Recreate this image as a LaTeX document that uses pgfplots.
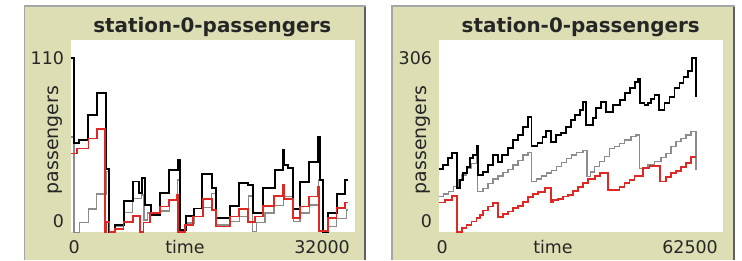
\documentclass[border=0pt]{standalone}
\usepackage{fontspec}
\setmainfont{DejaVu Sans}
\usepackage{pgfplots}
\usepackage{pgfplotstable}
\pgfplotsset{compat=1.18}
\definecolor{beige}{RGB}{222,222,181}
\definecolor{framelight}{RGB}{165,165,165}
\definecolor{framedark}{RGB}{95,95,95}
\definecolor{pengray}{RGB}{140,140,140}
\definecolor{penred}{RGB}{222,40,36}

\pgfplotstableread{
x y
0 110
375 56
938 58
1913 74
2926 88
3976 40
4314 0
4989 4.6
6002 19.7
6977 32
7727 24.6
8027 34
8365 17
9003 11
10053 24.5
11066 39
12116 45.5
12304 1.5
12941 10
13917 15
14742 36.5
15868 27.7
16355 8.8
17930 16.6
18981 30.9
19993 30
20556 12
21681 27.7
22994 39.3
23932 51.8
24007 42.4
24495 40.3
25058 14.5
25809 31.9
26859 44.5
27871 60.3
28059 33
28434 0.4
28996 12
29934 24
30871 33
31171 33
}\leftblack
\pgfplotstableread{
x y
0 60.2
375 0
975 6.1
1988 14.5
2926 24.1
3976 38.2
4239 0
4989 3.6
5927 12.4
6977 21.4
7990 23.5
8252 7.8
8627 12
10053 13.6
11103 20.4
12003 33
12303 0
12941 5.7
13916 9.9
14929 15.7
15867 24.5
16354 4.6
17930 6.7
18980 9.9
19993 22.9
20480 0.4
20931 6.1
21868 12
22881 16.8
23931 22.5
25057 6.7
25807 12
26857 17.2
27870 33
28433 0
28996 3.6
29933 8.8
31058 14
31171 14
}\leftgray
\pgfplotstableread{
x y
0 49.7
675 52.9
1988 59.2
2926 64.9
3864 0
3976 6.7
4351 0
4989 1.9
5927 6.7
6977 10.3
7802 0
8177 6.1
8927 12
10053 16.2
11103 20.4
11928 23.5
12116 0
12866 4.6
13804 9.9
14854 20.8
15867 14.1
16354 3.6
17930 9.9
18980 14.5
19993 6.7
20743 9.9
21681 16.6
22881 22.9
23931 29.8
24007 20.8
25057 8.8
25807 16.2
26857 22.5
27870 28.8
27983 1
28996 8.8
29933 15.1
30871 18.7
31171 18.7
}\leftred
\pgfplotstableread{
x y
0 110.4
1023 118
2120 129.6
2851 138.4
3947 77.1
4678 91.7
5409 104.5
6140 115
6871 129.6
7602 135.5
8333 151.3
8699 100.4
9795 106.3
10892 118
11988 135.5
13085 123.8
13816 135.5
15278 147.2
16374 161.8
17471 170.5
18567 184
19664 201.5
20395 151.3
21711 155.9
22807 167.6
23538 177.5
24635 158.8
25731 170.5
26828 173.4
27924 185.1
29021 196.8
29898 205.6
30994 214.3
31725 228.9
32456 188
33918 199.7
34649 217.2
35746 228.9
36842 211.4
38304 223.1
39766 231.8
40863 243.5
41959 252.3
43056 264
43787 268
44152 227.2
45249 223.1
45980 226
46711 233
47442 240.6
48392 214.3
49635 226
50731 237.7
51828 252.3
52924 262.2
53802 272.7
54752 283.2
55702 306
56579 237.7
}\rightblack
\pgfplotstableread{
x y
0 62.5
1023 66.6
2120 71.2
3216 80
4313 91.7
5044 100.4
6140 112.1
7237 120.9
8333 133.7
8553 71.2
9795 77.1
10892 85.8
11988 92.9
13085 98.7
14181 104.5
15278 110.4
16374 118
17471 125.6
18567 135.5
19664 139.6
20395 88.8
21491 92.9
22588 98.7
23684 103.4
24781 108
25877 115
26974 122.1
28070 129.6
29167 135.5
30263 139.6
31725 143.1
32603 97.5
33400 106
34284 115
35380 123.8
36477 132.6
37573 147.2
38670 150.1
39766 155.9
40863 161.8
42325 167.6
43421 170.5
44152 112.1
45980 118
47442 123.8
48904 131.4
50000 138.4
51097 150.1
52193 158.8
53290 164.7
54386 170.5
55483 176.4
56579 109.2
}\rightgray
\pgfplotstableread{
x y
0 52
1389 56.6
2851 63.7
3947 0
5044 7
6140 12.8
7237 18.7
8333 24.5
9064 30.4
9795 38
10892 45
11988 50.8
13085 27.4
14181 32.1
15278 36.2
16374 42
17471 46.7
18567 53.7
19664 61.3
20760 67.2
21857 71.2
23319 77.1
24635 52
25146 56.6
26243 57.8
27339 62.5
28436 65.4
29532 72.4
30629 80
31725 87
32822 92.9
34284 98.7
35380 104.5
37208 74.2
39766 80
40863 85.8
41959 91.7
43056 98.7
44883 112.1
46345 116.2
48685 88.8
50000 97.5
51097 103.4
52193 108
53290 115
54386 120.9
55483 131.4
56579 131.4
}\rightred

\pgfplotsset{
  panel/.style={
    scale only axis, width=284.3bp, height=192.3bp, anchor=south west,
    axis background/.style={fill=white},
    axis line style={draw=none}, major tick length=0pt, tick style={draw=none},
    clip=false, ymin=0, xmin=0,
    /pgf/number format/assume math mode=true,
    ticklabel style={font=\fontsize{17.5}{20}\selectfont, inner sep=0pt, text=black!85},
    yticklabel style={anchor=east, xshift=-6.5bp},
    xticklabel style={anchor=north east, xshift=-5bp, yshift=-8bp},
    extra y tick style={yticklabel style={yshift=11.3bp}},
    extra x tick style={xticklabel style={anchor=north, xshift=8.5bp}},
    extra y ticks={0}, extra y tick labels={0},
    extra x ticks={0}, extra x tick labels={0},
    label style={font=\fontsize{17.5}{20}\selectfont, inner sep=0pt, text=black!85},
    xlabel={time},
    xlabel style={at={(axis description cs:0.402,-0.042)}, anchor=north},
    ylabel={passengers},
    ylabel style={at={(axis description cs:-0.027,0.48)}, anchor=south, font=\fontsize{19}{22}\selectfont},
    every axis plot/.append style={const plot, line join=miter},
  }
}

\begin{document}
\begin{tikzpicture}[x=1bp,y=1bp]
\useasboundingbox (0,0) rectangle (742,260);
% left panel frame
\fill[framelight] (23.5,0) rectangle (366,254.5);
\fill[beige] (25,0) rectangle (363.5,253);
\fill[framedark] (363.5,0) rectangle (366,253);
% right panel frame
\fill[framelight] (391,0) rectangle (735,254.5);
\fill[beige] (392.5,0) rectangle (732.5,253);
\fill[framedark] (732.5,0) rectangle (735,253);

\node[font=\bfseries\fontsize{20}{24}\selectfont, anchor=base, text=black!85] at (212.3,227.7) {station-0-passengers};
\node[font=\bfseries\fontsize{20}{24}\selectfont, anchor=base, text=black!85] at (580.7,227.7) {station-0-passengers};

\begin{axis}[panel, at={(70.7bp,27.7bp)}, xmax=32000, ymax=121.2,
  xtick={32000}, xticklabels={32000}, ytick={110}, yticklabels={110}]
\addplot[pengray, line width=1.6bp] table {\leftgray};
\addplot[black, line width=1.9bp] table {\leftblack};
\addplot[penred, line width=1.7bp] table {\leftred};
\end{axis}

\begin{axis}[panel, at={(438.7bp,27.7bp)}, xmax=62500, ymax=337,
  xtick={62500}, xticklabels={62500}, ytick={306}, yticklabels={306}]
\addplot[pengray, line width=1.6bp] table {\rightgray};
\addplot[black, line width=1.9bp] table {\rightblack};
\addplot[penred, line width=1.7bp] table {\rightred};
\end{axis}
\end{tikzpicture}
\end{document}
